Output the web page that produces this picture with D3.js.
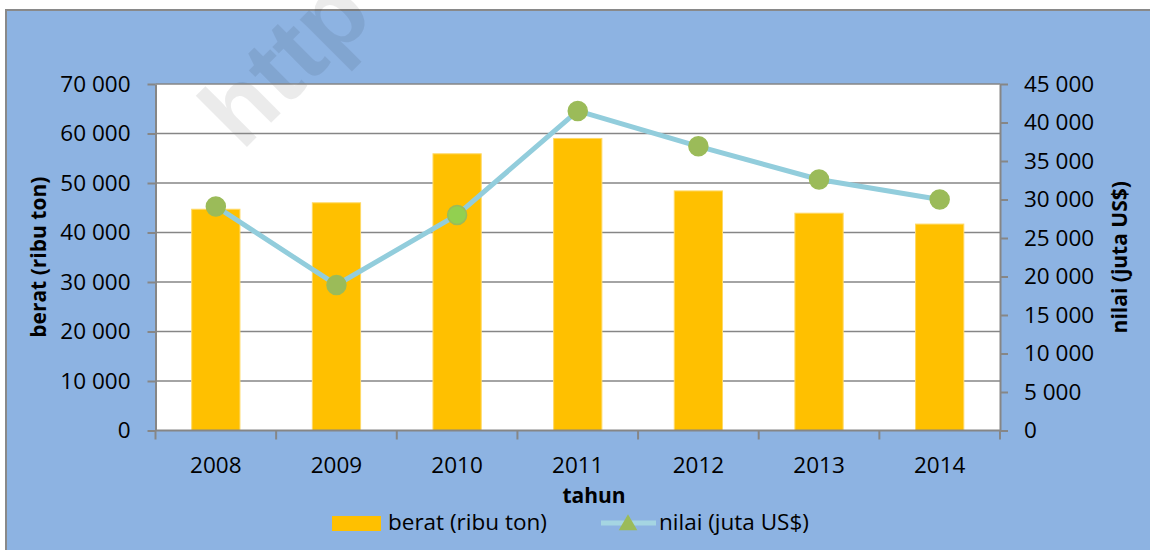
<!DOCTYPE html>
<html>
<head>
<meta charset="utf-8">
<script src="https://cdn.jsdelivr.net/npm/d3@7"></script>
<style>
  html, body { margin: 0; padding: 0; background: #fff; }
  svg { display: block; font-family: "Open Sans", sans-serif; }
</style>
</head>
<body>
<div class="chart-container"></div>
<script>
// data
const years = ['2008', '2009', '2010', '2011', '2012', '2013', '2014'];
const berat = [44700, 46000, 55900, 59000, 48400, 43900, 41700];   // ribu ton (left axis)
const nilai = [29100, 18900, 28000, 41500, 36900, 32600, 30000];   // juta US$ (right axis)
const leftTicks = [0, 10000, 20000, 30000, 40000, 50000, 60000, 70000];
const rightTicks = [0, 5000, 10000, 15000, 20000, 25000, 30000, 35000, 40000, 45000];
const highlightYear = '2010';

const W = 1150, H = 550;
const plot = { left: 155.5, right: 1000, top: 84, bottom: 430.5 };
const axisColor = '#868686';

const svg = d3.select('.chart-container').append('svg')
  .attr('width', W)
  .attr('height', H);

// chart area
svg.append('rect')
  .attr('x', 6).attr('y', 10)
  .attr('width', W + 20).attr('height', H + 20)
  .attr('fill', '#8db3e2')
  .attr('stroke', '#898989')
  .attr('stroke-width', 2);

// plot area
svg.append('rect')
  .attr('x', plot.left).attr('y', plot.top)
  .attr('width', plot.right - plot.left)
  .attr('height', plot.bottom - plot.top)
  .attr('fill', '#fff');

const fmt = d3.formatLocale({ decimal: ',', thousands: ' ', grouping: [3], currency: ['', ''] }).format(',d');

const x = d3.scaleBand()
  .domain(years)
  .range([plot.left, plot.right])
  .paddingInner(0.6)
  .paddingOuter(0.3);

const yL = d3.scaleLinear().domain([0, 70000]).range([plot.bottom, plot.top]);
const yR = d3.scaleLinear().domain([0, 45000]).range([plot.bottom, plot.top]);

// watermark (runs off the top edge like in the source)
svg.append('text')
  .attr('transform', 'translate(242,152) rotate(-45)')
  .attr('font-family', '"Liberation Sans", Arial, sans-serif')
  .attr('font-weight', 'bold')
  .attr('font-size', 100)
  .attr('fill', '#000')
  .attr('fill-opacity', 0.08)
  .text('http');

// gridlines
svg.append('g')
  .selectAll('line')
  .data(leftTicks.filter(d => d > 0))
  .enter().append('line')
  .attr('x1', plot.left).attr('x2', plot.right)
  .attr('y1', d => yL(d)).attr('y2', d => yL(d))
  .attr('stroke', axisColor)
  .attr('stroke-width', 1.5);

// left axis
svg.append('g')
  .attr('transform', `translate(${plot.left},0)`)
  .call(d3.axisLeft(yL).tickValues(leftTicks).tickFormat(fmt).tickSize(8).tickSizeOuter(0).tickPadding(17))
  .call(g => {
    g.select('.domain').attr('stroke', axisColor).attr('stroke-width', 2);
    g.selectAll('.tick line').attr('stroke', axisColor).attr('stroke-width', 2);
    g.selectAll('text').attr('font-family', '"Open Sans", sans-serif').attr('font-size', 22.5).attr('fill', '#000');
  });

// right axis
svg.append('g')
  .attr('transform', `translate(${plot.right},0)`)
  .call(d3.axisRight(yR).tickValues(rightTicks).tickFormat(fmt).tickSize(8).tickSizeOuter(0).tickPadding(16))
  .call(g => {
    g.select('.domain').attr('stroke', axisColor).attr('stroke-width', 2);
    g.selectAll('.tick line').attr('stroke', axisColor).attr('stroke-width', 2);
    g.selectAll('text').attr('font-family', '"Open Sans", sans-serif').attr('font-size', 22.5).attr('fill', '#000');
  });

// bars
svg.selectAll('.bar')
  .data(years.map((y, i) => ({ year: y, value: berat[i] })))
  .enter().append('rect')
  .attr('class', 'bar')
  .attr('x', d => x(d.year))
  .attr('y', d => yL(d.value))
  .attr('width', x.bandwidth())
  .attr('height', d => plot.bottom - yL(d.value))
  .attr('fill', '#ffc000')
  .attr('stroke', '#ffd966')
  .attr('stroke-width', 1);

// bottom axis (labels only, ticks drawn at category boundaries)
svg.append('g')
  .attr('transform', `translate(0,${plot.bottom})`)
  .call(d3.axisBottom(x).tickSize(0).tickPadding(26.5))
  .call(g => {
    g.select('.domain').remove();
    g.selectAll('text').attr('font-family', '"Open Sans", sans-serif').attr('font-size', 22.5).attr('fill', '#000');
  });

const boundaries = d3.range(years.length + 1).map(i => plot.left + i * x.step());
svg.append('line')
  .attr('x1', plot.left).attr('x2', plot.right)
  .attr('y1', plot.bottom).attr('y2', plot.bottom)
  .attr('stroke', axisColor).attr('stroke-width', 2);
svg.append('g')
  .selectAll('line')
  .data(boundaries)
  .enter().append('line')
  .attr('x1', d => d).attr('x2', d => d)
  .attr('y1', plot.bottom).attr('y2', plot.bottom + 9)
  .attr('stroke', axisColor).attr('stroke-width', 2);

// line series
const pts = years.map((y, i) => ({ year: y, value: nilai[i] }));
const line = d3.line()
  .x(d => x(d.year) + x.bandwidth() / 2)
  .y(d => yR(d.value));

svg.append('path')
  .datum(pts)
  .attr('d', line)
  .attr('fill', 'none')
  .attr('stroke', '#92cddc')
  .attr('stroke-width', 5)
  .attr('stroke-linejoin', 'round');

svg.selectAll('.dot')
  .data(pts)
  .enter().append('circle')
  .attr('class', 'dot')
  .attr('cx', d => x(d.year) + x.bandwidth() / 2)
  .attr('cy', d => yR(d.value))
  .attr('r', 9.5)
  .attr('fill', d => d.year === highlightYear ? '#92d050' : '#9bbb59')
  .attr('stroke', '#9bbb59')
  .attr('stroke-width', 1.5);

// axis titles
svg.append('text')
  .attr('transform', `translate(39,${(plot.top + plot.bottom) / 2}) rotate(-90)`)
  .attr('text-anchor', 'middle')
  .attr('dy', '0.35em')
  .attr('font-size', 21)
  .attr('font-weight', 'bold')
  .text('berat (ribu ton)');

svg.append('text')
  .attr('transform', `translate(1120,${(plot.top + plot.bottom) / 2}) rotate(-90)`)
  .attr('text-anchor', 'middle')
  .attr('dy', '0.35em')
  .attr('font-size', 21)
  .attr('font-weight', 'bold')
  .text('nilai (juta US$)');

svg.append('text')
  .attr('x', 594).attr('y', 503)
  .attr('text-anchor', 'middle')
  .attr('font-size', 21)
  .attr('font-weight', 'bold')
  .text('tahun');

// legend
const legend = svg.append('g');
legend.append('rect')
  .attr('x', 332).attr('y', 516)
  .attr('width', 49).attr('height', 15)
  .attr('fill', '#ffc000');
legend.append('text')
  .attr('x', 388).attr('y', 530)
  .attr('font-size', 22.5)
  .text('berat (ribu ton)');
legend.append('line')
  .attr('x1', 601).attr('x2', 656)
  .attr('y1', 523).attr('y2', 523)
  .attr('stroke', '#a5d5e2')
  .attr('stroke-width', 5);
legend.append('path')
  .attr('d', d3.symbol(d3.symbolTriangle, 150)())
  .attr('transform', 'translate(628,525)')
  .attr('fill', '#9bbb59');
legend.append('text')
  .attr('x', 659).attr('y', 530)
  .attr('font-size', 22.5)
  .text('nilai (juta US$)');
</script>
</body>
</html>
